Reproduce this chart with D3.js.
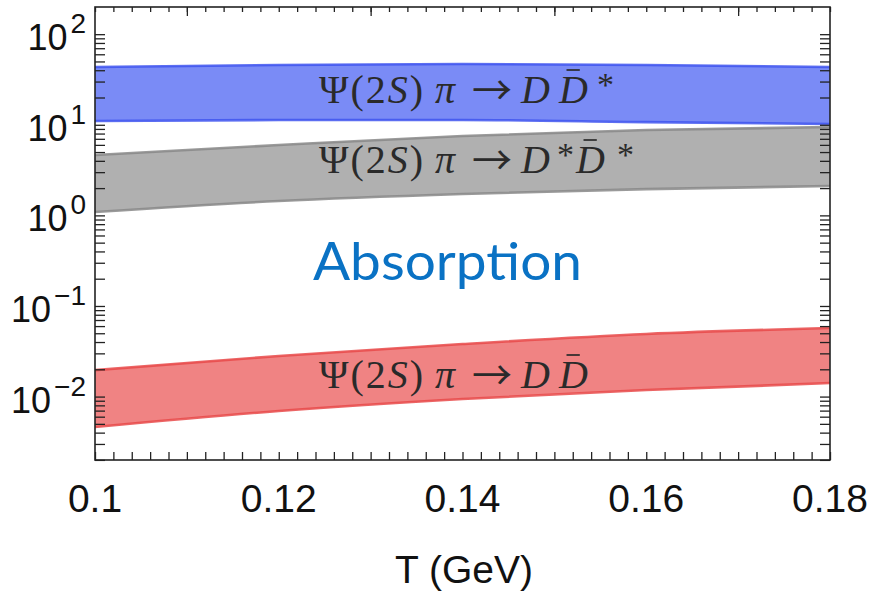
<!DOCTYPE html>
<html>
<head>
<meta charset="utf-8">
<script src="https://cdn.jsdelivr.net/npm/d3@7"></script>
<style>
  html, body { margin: 0; padding: 0; background: #fff; }
  svg { display: block; }
</style>
</head>
<body>
<svg id="chart" width="873" height="595"></svg>
<script>
// Temperature grid (GeV)
const T = [0.10, 0.12, 0.14, 0.16, 0.18];

// Absorption cross-section bands (upper / lower edges), log scale
const ddstarHi = [43.4, 45.7, 46.9, 45.7, 43.4];
const ddstarLo = [11.0, 11.3, 11.3, 10.7, 10.2];
const dsdsHi   = [4.63, 5.98, 7.52, 8.75, 9.45];
const dsdsLo   = [1.09, 1.44, 1.72, 1.95, 2.11];
const ddHi     = [0.0196, 0.0281, 0.0380, 0.0491, 0.0571];
const ddLo     = [0.00461, 0.00693, 0.00940, 0.0118, 0.0141];

// Axis ticks
const xLabelTicks = [0.10, 0.12, 0.14, 0.16, 0.18];
const yMajorExps  = [-2, -1, 0, 1, 2];
const xTitle = "T (GeV)";
const annotation = "Absorption";

const svg = d3.select("#chart");
const L = 95, R = 830, TOP = 7, BOT = 460;

const x = d3.scaleLinear().domain([0.10, 0.18]).range([L, R]);
const y = d3.scaleLog().domain([Math.pow(10, -2.7), Math.pow(10, 2.3)]).range([BOT, TOP]);

svg.append("defs").append("clipPath").attr("id", "plotClip")
  .append("rect").attr("x", L).attr("y", TOP).attr("width", R - L).attr("height", BOT - TOP);

const bands = [
  { hi: ddstarHi, lo: ddstarLo, fill: "#7a8bf6", edge: "#3f55ef" },
  { hi: dsdsHi,   lo: dsdsLo,   fill: "#b0b0b0", edge: "#888888" },
  { hi: ddHi,     lo: ddLo,     fill: "#f08383", edge: "#e84a4a" }
];

const plot = svg.append("g").attr("clip-path", "url(#plotClip)");
bands.forEach(b => {
  const pts = T.map((t, i) => ({ t, hi: b.hi[i], lo: b.lo[i] }));
  const area = d3.area().curve(d3.curveMonotoneX)
    .x(d => x(d.t)).y0(d => y(d.lo)).y1(d => y(d.hi));
  plot.append("path").datum(pts).attr("d", area).attr("fill", b.fill);
  ["hi", "lo"].forEach(k => {
    const line = d3.line().curve(d3.curveMonotoneX).x(d => x(d.t)).y(d => y(d[k]));
    plot.append("path").datum(pts).attr("d", line)
      .attr("fill", "none").attr("stroke", b.edge).attr("stroke-width", 2.6).attr("stroke-opacity", 0.85);
  });
});

// Log ticks: 1..9 x 10^k inside the domain
const yTicks = [];
for (let k = -3; k <= 2; k++) {
  for (let m = 1; m <= 9; m++) {
    const v = m * Math.pow(10, k);
    if (v >= y.domain()[0] && v <= y.domain()[1]) yTicks.push(v);
  }
}
const xMinor = d3.range(0, 41).map(i => +(0.10 + i * 0.002).toFixed(3));
const xTop = d3.range(0, 9).map(i => +(0.10 + i * 0.01).toFixed(2));

const axisStyle = g => {
  g.select(".domain").remove();
  g.selectAll(".tick line").attr("stroke", "#222").attr("stroke-width", 1.3);
};

// left axis (ticks point inward)
svg.append("g").attr("transform", `translate(${L},0)`)
  .call(d3.axisLeft(y).tickValues(yTicks).tickSize(-10).tickFormat(() => ""))
  .call(axisStyle).selectAll("text").remove();

// right axis mirror
svg.append("g").attr("transform", `translate(${R},0)`)
  .call(d3.axisRight(y).tickValues(yTicks).tickSize(-10).tickFormat(() => ""))
  .call(axisStyle).selectAll("text").remove();

// bottom axis minor ticks
svg.append("g").attr("transform", `translate(0,${BOT})`)
  .call(d3.axisBottom(x).tickValues(xMinor).tickSize(-8).tickFormat(() => ""))
  .call(axisStyle).selectAll("text").remove();

// top axis: short ticks every 0.002, longer ones at odd hundredths
svg.append("g").attr("transform", `translate(0,${TOP})`)
  .call(d3.axisTop(x).tickValues(xMinor).tickSize(-5).tickFormat(() => ""))
  .call(axisStyle).selectAll("text").remove();
svg.append("g").attr("transform", `translate(0,${TOP})`)
  .call(d3.axisTop(x).tickValues(xTop.filter((v, i) => i % 2 === 1)).tickSize(-9).tickFormat(() => ""))
  .call(axisStyle).selectAll("text").remove();

// frame
svg.append("rect").attr("x", L).attr("y", TOP).attr("width", R - L).attr("height", BOT - TOP)
  .attr("fill", "none").attr("stroke", "#222").attr("stroke-width", 1.6);

// y tick labels 10^k
const sansFont = "'Liberation Sans', Arial, sans-serif";
yMajorExps.forEach(e => {
  const t = svg.append("text").attr("x", 86).attr("y", y(Math.pow(10, e)) + 16)
    .attr("text-anchor", "end").attr("font-family", sansFont).attr("fill", "#111");
  t.append("tspan").attr("font-size", 36).text("10");
  t.append("tspan").attr("font-size", 28).attr("dx", 3).attr("dy", -17)
    .text(e < 0 ? "\u2212" + (-e) : String(e));
});

// x tick labels
xLabelTicks.forEach(v => {
  svg.append("text").attr("x", x(v)).attr("y", 512).attr("text-anchor", "middle")
    .attr("font-family", sansFont).attr("font-size", 39).attr("fill", "#111")
    .text(d3.format("")(v));
});

svg.append("text").attr("x", 464).attr("y", 583).attr("text-anchor", "middle")
  .attr("font-family", sansFont).attr("font-size", 39).attr("fill", "#111").text(xTitle);

// reaction labels, typeset piece by piece
const mathFont = "'Liberation Serif', 'DejaVu Serif', serif";
const FS = 40;
function reaction(baseline, parts) {
  const t = svg.append("text").attr("y", baseline)
    .attr("font-family", mathFont).attr("font-size", FS).attr("fill", "#2a2a2a");
  let idx = 0;
  const bars = [];
  parts.forEach(p => {
    const sp = t.append("tspan").text(p.s).attr("y", baseline);
    if (p.x !== undefined) sp.attr("x", p.x);
    if (p.it) sp.attr("font-style", "italic");
    if (p.ls) sp.attr("letter-spacing", p.ls);
    if (p.star) sp.attr("font-size", 34).attr("y", baseline - 7);
    if (p.arrow) sp.attr("font-family", "'Noto Sans CJK JP', 'DejaVu Sans', sans-serif")
      .attr("font-size", 40).attr("y", baseline + 2);
    if (p.bar) bars.push(idx);
    idx += p.s.length;
  });
  bars.forEach(i => {
    const ext = t.node().getExtentOfChar(i);
    svg.append("line")
      .attr("x1", ext.x + ext.width * 0.26).attr("x2", ext.x + ext.width * 0.72)
      .attr("y1", baseline - 33).attr("y2", baseline - 33)
      .attr("stroke", "#2a2a2a").attr("stroke-width", 1.7);
  });
}
const head = [
  { s: "\u03A8(2", x: 319, ls: 2 },
  { s: "S", it: true, ls: 2 },
  { s: ")" },
  { s: "\u03C0", it: true, x: 435 },
  { s: "\u2192", arrow: true, x: 472 }
];
reaction(103, head.concat([
  { s: "D", it: true, x: 521 },
  { s: "D", it: true, bar: true, x: 559 },
  { s: "*", star: true, x: 597 }
]));
reaction(173, head.concat([
  { s: "D", it: true, x: 521 },
  { s: "*", star: true, x: 557 },
  { s: "D", it: true, bar: true, x: 576 },
  { s: "*", star: true, x: 617 }
]));
reaction(388, head.concat([
  { s: "D", it: true, x: 521 },
  { s: "D", it: true, bar: true, x: 559 }
]));

svg.append("text").attr("x", 313).attr("y", 280)
  .attr("font-family", "'Comic Sans MS', Lato, sans-serif").attr("font-size", 52)
  .attr("fill", "#0a72c4").attr("textLength", 269).attr("lengthAdjust", "spacingAndGlyphs")
  .text(annotation);
</script>
</body>
</html>
